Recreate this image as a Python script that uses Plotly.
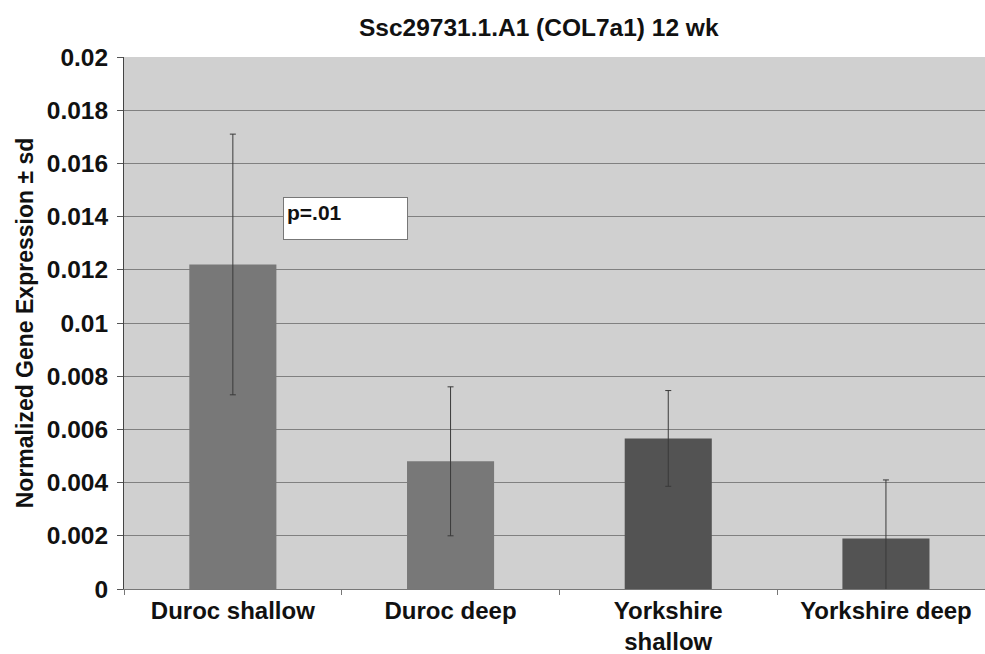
import plotly.graph_objects as go

# Expression data (mean and standard deviation per group)
categories = ["Duroc shallow", "Duroc deep", "Yorkshire<br>shallow", "Yorkshire deep"]
means = [0.0122, 0.0048, 0.00566, 0.0019]
sds = [0.0049, 0.0028, 0.0018, 0.0022]
bar_colors = ["#787878", "#787878", "#535353", "#535353"]
y_ticks = [0, 0.002, 0.004, 0.006, 0.008, 0.01, 0.012, 0.014, 0.016, 0.018, 0.02]
y_tick_text = ["0", "0.002", "0.004", "0.006", "0.008", "0.01", "0.012", "0.014", "0.016", "0.018", "0.02"]

FONT = "Liberation Sans, Arial, sans-serif"

fig = go.Figure(
    go.Bar(
        x=categories,
        y=means,
        width=0.40,
        marker=dict(color=bar_colors, line=dict(width=0)),
        error_y=dict(type="data", array=sds, visible=True,
                     color="#3a3a3a", thickness=1, width=3),
    )
)

fig.update_layout(
    width=985,
    height=654,
    margin=dict(l=124, r=0, t=57, b=65, autoexpand=False),
    paper_bgcolor="white",
    plot_bgcolor="#d0d0d0",
    showlegend=False,
    bargap=0.6,
    font=dict(family=FONT, color="black"),
    annotations=[
        dict(
            text="<b>Ssc29731.1.A1 (COL7a1) 12 wk</b>",
            xref="paper", yref="paper",
            x=(539 - 124) / 861, y=1,
            xanchor="center", yanchor="bottom", yshift=14,
            showarrow=False,
            font=dict(size=24.5, family=FONT, color="#111"),
        ),
        dict(
            text="<b>p=.01</b>",
            xref="x", yref="y",
            x=0.23, y=0.01472,
            xanchor="left", yanchor="top",
            showarrow=False,
            align="left", valign="top",
            width=117, height=35,
            bgcolor="white",
            bordercolor="#777",
            borderwidth=1,
            borderpad=3,
            font=dict(size=21, family=FONT, color="#111"),
        ),
    ],
)

fig.update_xaxes(
    type="category",
    range=[-0.5, 3.455],
    automargin=False,
    showgrid=False,
    showline=True,
    linecolor="#777",
    linewidth=1,
    ticks="outside",
    tickson="boundaries",
    ticklen=5,
    tickcolor="#777",
    tickfont=dict(size=24, family=FONT, color="#111", weight="bold"),
    ticklabelstandoff=0,
)

fig.update_yaxes(
    range=[0, 0.02],
    automargin=False,
    tickvals=y_ticks,
    ticktext=y_tick_text,
    showgrid=True,
    gridcolor="#808080",
    gridwidth=1,
    zeroline=False,
    showline=True,
    linecolor="#444",
    linewidth=1,
    ticks="outside",
    ticklen=6,
    tickcolor="#555",
    tickfont=dict(size=24.5, family=FONT, color="#111", weight="bold"),
    ticklabelstandoff=4,
    title=dict(
        text="<b>Normalized Gene Expression ± sd</b>",
        font=dict(size=23, family=FONT, color="#111"),
        standoff=6,
    ),
)

fig.write_html("out.html")
